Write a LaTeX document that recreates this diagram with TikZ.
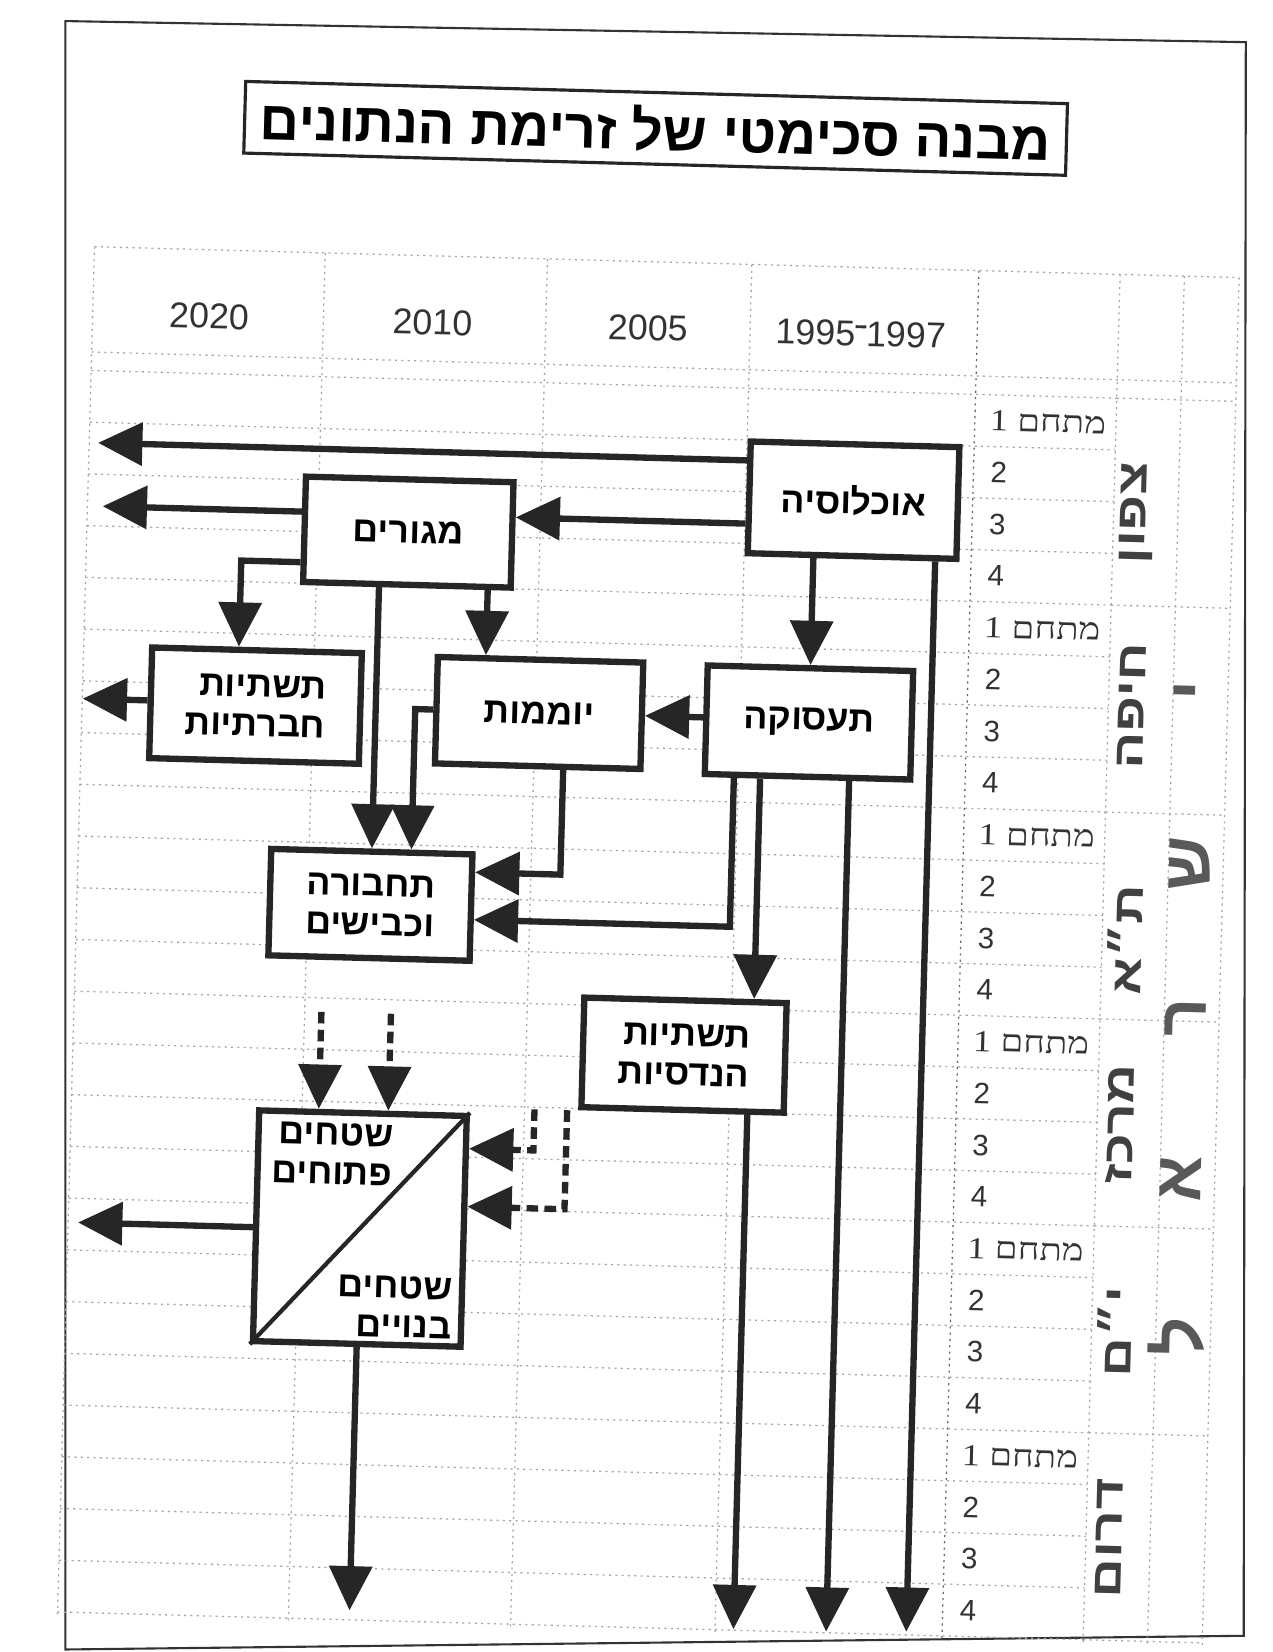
\documentclass[tikz,border=0pt]{standalone}
\usepackage{fontspec}
\setmainfont{Liberation Sans}
\newfontfamily\heb[Script=Hebrew]{Liberation Sans}
\newfontfamily\hebserif[Script=Hebrew,FakeStretch=1.2]{Liberation Serif}
\newfontfamily\hebwide[Script=Hebrew,FakeStretch=1.3]{Liberation Sans}
\TeXXeTstate=1
\usetikzlibrary{arrows.meta}
\newcommand\boxfont{\heb\bfseries\fontsize{34}{37}\selectfont}
\newcommand\titlefont{\heb\bfseries\fontsize{52}{52}\selectfont}
\newcommand\yearfont{\fontsize{34}{34}\selectfont}
\newcommand\labfont{\hebserif\fontsize{29}{29}\selectfont}
\newcommand\numfont{\fontsize{28}{28}\selectfont}
\newcommand\regfont{\hebwide\bfseries\fontsize{40}{40}\selectfont}
\newcommand\handfont{\heb\bfseries\fontsize{64}{64}\selectfont}
\begin{document}
\begin{tikzpicture}[x=1pt,y=-1pt,
  box/.style={draw=black!85,line width=6pt,fill=white,inner sep=0pt,font=\boxfont,align=right},
  conn/.style={draw=black!85,line width=6pt,-{Triangle[length=42pt,width=40pt]}},
  dconn/.style={conn,dash pattern=on 11pt off 6pt},
  gridl/.style={black!35,line width=1.2pt,dash pattern=on 2pt off 4pt},
  lab/.style={font=\labfont,inner sep=0pt,text=black!80},
  num/.style={font=\numfont,inner sep=0pt,text=black!80},
  year/.style={font=\yearfont,inner sep=0pt,text=black!80},
  region/.style={font=\regfont,inner sep=0pt,text=black!75},
  hand/.style={font=\handfont,inner sep=0pt,text=black!65},
  lt/.style={font=\boxfont,inner sep=0pt,align=right}]
\useasboundingbox (0,0) rectangle (1207,1567.4);
\fill[white] (0,0) rectangle (1207,1567.4);
\draw[line width=2pt,black!80] (62,20) -- (1182,40) -- (1180,1552) -- (62,1565) -- cycle;
\begin{scope}[rotate around={-1.55:(600,800)},transform shape]
% grid
\draw[gridl] (74.5,248) -- (1161,248);
\draw[gridl] (74.5,348) -- (1161,348);
\foreach \k in {0,...,24} \draw[gridl] (74.5,{365.5+49.1*\k}) -- (1048,{365.5+49.1*\k});
\foreach \k in {0,4,...,24} \draw[gridl] (1048,{365.5+49.1*\k}) -- (1161,{365.5+49.1*\k});
\foreach \x in {74.5,293.5,504.5,698.5,1048,1109,1161} \draw[gridl] (\x,248) -- (\x,1548);
\draw[gridl,black!60] (914,248) -- (914,1548);
% title
\node[draw=black!85,line width=3pt,minimum width=780,minimum height=68,inner sep=0pt,font=\titlefont] (title) at (603.7,121.4) {\beginR מבנה סכימטי של זרימת הנתונים\endR};
% years
\node[year] (y1) at (185,311) {2020};
\node[year] (y2) at (397,311) {2010};
\node[year] (y3) at (601.5,311) {2005};
\node[year] (y4) at (803.5,311) {1995\raisebox{0.5em}{\rule{0.3em}{0.08em}}1997};
% row labels
\foreach \i in {0,...,5}{
  \node[lab,anchor=west] (m\i) at (928,{390+196.4*\i}) {\beginR מתחם 1\endR};
  \foreach \j/\n in {1/2,2/3,3/4}
    \node[num,anchor=west] (n\i\j) at (930,{390+196.4*\i+49.1*\j}) {\n};
}
% region names
\foreach \t/\yy [count=\c] in {צפון/474,חיפה/657,ת״א/879,מרכז/1054,י״ם/1251,דרום/1447}
  \node[region,rotate=90] (reg\c) at (1070,\yy) {\beginR\t\endR};
\foreach \t/\yy [count=\c] in {י/641,ש/805,ר/951,א/1104,ל/1254}
  \node[hand,rotate=90] (h\c) at (1129,\yy) {\t};
% boxes
\node[box,minimum width=198,minimum height=106] (pop) at (801,469) {\beginR אוכלוסיה\endR};
\node[box,minimum width=197,minimum height=100] (hous) at (379.5,510.7) {\beginR מגורים\endR};
\node[box,minimum width=195,minimum height=103] (emp) at (764.4,681) {\beginR תעסוקה\endR};
\node[box,minimum width=195,minimum height=101] (comm) at (508.2,678.9) {\beginR יוממות\endR};
\node[box,minimum width=199,minimum height=105] (soc) at (239,679.2) {\beginR תשתיות\endR\\\beginR חברתיות\endR};
\node[box,minimum width=191,minimum height=101] (trans) at (353.1,865.2) {\beginR תחבורה\endR\\\beginR וכבישים\endR};
\node[box,minimum width=192,minimum height=104] (eng) at (654.4,999.7) {\beginR תשתיות\endR\\\beginR הנדסיות\endR};
\node[box,minimum width=197,minimum height=219] (land) at (351.4,1172.5) {};
\draw[black!85,line width=4pt] (land.south west) -- (land.north east);
\node[lt,anchor=north west] (lo) at ([xshift=16pt,yshift=-13pt]land.north west) {\beginR שטחים\endR\\\beginR פתוחים\endR};
\node[lt,anchor=south east] (lb) at ([xshift=-12pt,yshift=10pt]land.south east) {\beginR שטחים\endR\\\beginR בנויים\endR};
% coordinates
\coordinate (e1) at (83,434);
\coordinate (e2) at (89,494);
\coordinate (e3) at (75,677);
\coordinate (e4) at (84,1174);
\coordinate (b1) at (880,1541);
\coordinate (b2) at (804,1543);
\coordinate (b3) at (716,1543);
\coordinate (b4) at (351.4,1535);
\coordinate (k1) at (221.8,542);
\coordinate (k2) at (390.6,678.4);
\coordinate (k3) at (532.5,831.7);
\coordinate (k4) at (694.6,876.8);
\coordinate (k5) at (456.3,600);
\coordinate (k6) at (719.5,900);
\coordinate (d1) at (309.4,968);
\coordinate (d2) at (375.4,968);
\coordinate (d3) at (514,1055);
\coordinate (d4) at (545,1055);
\coordinate (d5) at (514,1094);
\coordinate (d6) at (545,1149);
% connectors
\draw[conn] (pop.west |- e1) -- (e1);
\draw[conn] (pop.west |- e2) -- (hous.east |- e2);
\draw[conn] (hous.west |- e2) -- (e2);
\draw[conn] (emp.north |- pop.south) -- (emp.north);
\draw[conn] (pop.south -| b1) -- (b1);
\draw[conn] (hous.west |- k1) -- (k1) -- (k1 |- soc.north);
\draw[conn] (hous.south -| trans.north) -- (trans.north);
\draw[conn] (hous.south -| k5) -- (comm.north -| k5);
\draw[conn] (emp.west |- comm.east) -- (comm.east);
\draw[conn] (comm.west |- k2) -- (k2) -- (k2 |- trans.north);
\draw[conn] (comm.south -| k3) -- (k3) -- (trans.east |- k3);
\draw[conn] (emp.south -| k4) -- (k4) -- (trans.east |- k4);
\draw[conn] (emp.south -| k6) -- (eng.north -| k6);
\draw[conn] (emp.south -| b2) -- (b2);
\draw[conn] (eng.south -| b3) -- (b3);
\draw[conn] (soc.west |- e3) -- (e3);
\draw[conn] (land.west |- e4) -- (e4);
\draw[conn] (land.south) -- (b4);
\draw[dconn] (d1) -- (land.north -| d1);
\draw[dconn] (d2) -- (land.north -| d2);
\draw[dconn] (d3) -- (d5) -- (land.east |- d5);
\draw[dconn] (d4) -- (d6) -- (land.east |- d6);
\end{scope}
\end{tikzpicture}
\end{document}
